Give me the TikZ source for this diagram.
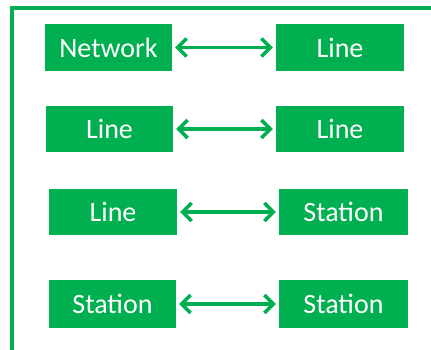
\documentclass[tikz,border=0pt]{standalone}
\usepackage{fontspec}
\setmainfont{Carlito}
\usetikzlibrary{arrows.meta}
\definecolor{boxgreen}{HTML}{00B050}
\begin{document}
\begin{tikzpicture}[x=1pt,y=-1pt,
  gbox/.style={fill=boxgreen,text=white,inner sep=0pt,font=\fontsize{28}{30}\selectfont},
  gbarb/.tip={Straight Barb[length=9pt,width=18pt,line width=3.5pt]},
  link/.style={draw=boxgreen,line width=3.5pt,gbarb-gbarb}]
\useasboundingbox (0,0) rectangle (431,350);
% frame along the top and left edges
\coordinate (ftop) at (431,8);
\coordinate (fcorner) at (12,8);
\coordinate (fbot) at (12,352);
\draw[boxgreen,line width=3.5pt] (ftop) -- (fcorner) -- (fbot);
% boxes
\newcommand\gb[5]{\node[gbox,minimum width=#3-#1,minimum height=#4-#2] (#5) at ({(#1+#3)/2},{(#2+#4)/2})}
\gb{45}{24}{172}{71}{a1} {Network};
\gb{276}{24}{404}{71}{b1} {Line};
\gb{46}{106}{173}{152}{a2} {Line};
\gb{276}{106}{404}{152}{b2} {Line};
\gb{49}{189}{177}{235}{a3} {Line};
\gb{279}{189}{408}{235}{b3} {Station};
\gb{49}{280}{176}{328}{a4} {Station};
\gb{279}{280}{408}{328}{b4} {Station};
% double-headed links
\draw[link] ([xshift=3pt]a1.east) -- ([xshift=-3pt]b1.west);
\draw[link] ([xshift=3pt]a2.east) -- ([xshift=-3pt]b2.west);
\draw[link] ([xshift=3pt]a3.east) -- ([xshift=-3pt]b3.west);
\draw[link] ([xshift=3pt]a4.east) -- ([xshift=-3pt]b4.west);
\end{tikzpicture}
\end{document}
